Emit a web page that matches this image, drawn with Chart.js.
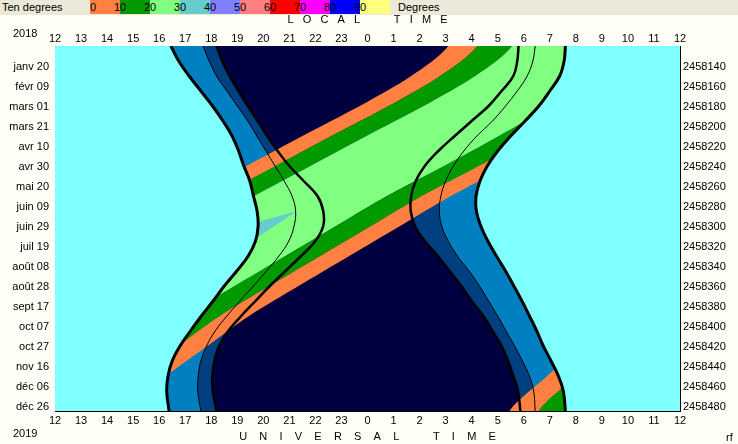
<!DOCTYPE html>
<html>
<head>
<meta charset="utf-8">
<script src="https://cdn.jsdelivr.net/npm/chart.js@4.4.0/dist/chart.umd.min.js"></script>
<style>
body { margin: 0; background: #FFFFF7; font-family: "Liberation Sans", Arial, sans-serif; font-size: 11px; }
#wrap { position: relative; width: 738px; height: 444px; overflow: hidden; }
canvas { position: absolute; left: 0; top: 0; }
#strip { position: absolute; left: 0; top: 0; width: 738px; height: 15px; background: #ECE9D8; }
.txt { position: absolute; line-height: 13px; white-space: nowrap; color: #000; }
.sw { position: absolute; top: 0; height: 14px; width: 30px; }
</style>
</head>
<body>
<div id="wrap">
  <canvas id="myChart" width="738" height="444"></canvas>
  <div id="strip"></div>
  <span class="txt" style="left:13px;top:27px">2018</span>
  <span class="txt" style="left:13px;top:427px">2019</span>
  <span class="txt" style="left:726px;top:431px">rf</span>
</div>
<script>
// hours are counted from 12:00, so 12 = midnight; days from 1 Jan 2018
var hourLabels = ["12","13","14","15","16","17","18","19","20","21","22","23","0","1","2","3","4","5","6","7","8","9","10","11","12"];
var tickDays = [20.5,40.5,60.5,80.5,100.5,120.5,140.5,160.5,180.5,200.5,220.5,240.5,260.5,280.5,300.5,320.5,340.5,360.5];
var dateLabels = ["janv 20","févr 09","mars 01","mars 21","avr 10","avr 30","mai 20","juin 09","juin 29","juil 19","août 08","août 28","sept 17","oct 07","oct 27","nov 16","déc 06","déc 26"];
var jdLabels = [2458140,2458160,2458180,2458200,2458220,2458240,2458260,2458280,2458300,2458320,2458340,2458360,2458380,2458400,2458420,2458440,2458460,2458480];

// sun
var sunDays    = [0,15,30,45,60,75,90,105,120,135,150,165,180,195,210,225,240,255,270,285,300,315,330,345,365];
var sunset     = [4.45,4.75,5.15,5.6,6.05,6.45,6.8,7.05,7.25,7.48,7.62,7.76,7.8,7.7,7.42,6.98,6.5,6.07,5.62,5.2,4.8,4.5,4.34,4.29,4.38];
var sunrise    = [19.6,19.55,19.38,19.0,18.58,18.05,17.5,17.0,16.6,16.32,16.17,16.18,16.35,16.62,16.95,17.3,17.62,17.93,18.22,18.5,18.75,19.05,19.33,19.52,19.6];
var nautEnd    = [5.69,5.92,6.2,6.6,7.0,7.4,7.75,8.1,8.45,8.8,9.1,9.24,9.18,8.98,8.6,8.12,7.62,7.1,6.6,6.15,5.82,5.6,5.5,5.48,5.6];
var nautStart  = [18.44,18.35,18.13,17.75,17.3,16.8,16.2,15.7,15.3,15.0,14.82,14.76,14.85,15.1,15.45,15.9,16.3,16.65,17.0,17.32,17.65,17.95,18.22,18.38,18.44];
var astroEnd   = [6.2,6.42,6.7,7.05,7.4,7.78,8.15,8.55,9.0,9.55,10.08,10.3,10.3,10.0,9.45,8.85,8.25,7.7,7.15,6.65,6.3,6.12,6.04,6.06,6.2];
var astroStart = [17.8,17.75,17.6,17.15,16.65,16.0,15.35,14.72,14.2,13.85,13.68,13.66,13.82,14.2,14.7,15.15,15.6,16.0,16.45,16.8,17.15,17.4,17.6,17.78,17.87];

// object altitude crossings (0, 10, 20 degrees)
var objDays = [0,30,60,90,120,150,180,210,240,270,300,330,365];
var rise0  = [15.1,13.68,11.7,9.5,7.35,5.2,3.1,1.15,-0.65,-2.3,-3.85,-5.1,-6.55];
var rise10 = [16.22,14.8,12.82,10.62,8.47,6.32,4.22,2.27,0.47,-1.18,-2.73,-3.98,-5.43];
var rise20 = [17.55,16.13,14.15,11.95,9.8,7.65,5.55,3.6,1.8,0.15,-1.4,-2.65,-4.1];
var set20  = [22.25,20.85,19.05,17.05,14.95,12.75,10.8,8.85,6.9,5.0,3.4,1.8,0.0];
var set10  = [23.58,22.18,20.38,18.38,16.28,14.08,12.13,10.18,8.23,6.33,4.73,3.13,1.33];
var set0   = [24.7,23.3,21.5,19.5,17.4,15.2,13.25,11.3,9.35,7.45,5.85,4.25,2.45];
// above 30 degrees
var tealDays = [165,182,200];
var tealRise = [9.27,6.99,4.58];
var tealSet  = [9.27,8.32,7.28];

var legendColors = ["#FF8040","#009900","#80FF80","#66CCCC","#8080FF","#FF8080","#FF0000","#FF00FF","#0000FF","#FFFF80"];
var legendLabels = ["0","10","20","30","40","50","60","70","80","90"];

var cyan = "#80FFFF", twi1 = "#0080C0", twi2 = "#004080", night = "#000040";

// legend strip
var strip = document.getElementById("strip");
strip.innerHTML = '<span class="txt" style="left:2px;top:1px">Ten degrees</span>';
legendColors.forEach(function (c, i) {
    strip.innerHTML += '<div class="sw" style="left:' + (90 + 30 * i) + 'px;background:' + c + '"></div>';
});
legendLabels.forEach(function (t, i) {
    var tr = i === 0 ? '' : 'transform:translateX(-50%);';
    strip.innerHTML += '<span class="txt" style="left:' + (90 + 30 * i) + 'px;top:1px;' + tr + '">' + t + '</span>';
});
strip.innerHTML += '<span class="txt" style="left:398px;top:1px">Degrees</span>';

// closed shape between two curves (left one down, right one back up)
function poly(days, left, right, shift) {
    var n = days.length - 1;
    var pts = [{x: left[0] + shift, y: -20}];
    for (var i = 0; i <= n; i++) pts.push({x: left[i] + shift, y: days[i]});
    pts.push({x: left[n] + shift, y: 385});
    pts.push({x: right[n] + shift, y: 385});
    for (var j = n; j >= 0; j--) pts.push({x: right[j] + shift, y: days[j]});
    pts.push({x: right[0] + shift, y: -20});
    return pts;
}
function curve(days, vals) {
    return days.map(function (d, i) { return {x: vals[i], y: d}; });
}
function area(pts, color, tension) {
    return {data: pts, showLine: true, fill: "shape", backgroundColor: color, borderColor: color,
            borderWidth: 0, pointRadius: 0, tension: tension, capBezierPoints: false};
}
function line(pts, w) {
    return {data: pts, showLine: true, fill: false, borderColor: "#000", borderWidth: w,
            pointRadius: 0, tension: 0.4, capBezierPoints: false};
}

var edgeL = sunDays.map(function () { return -2; });
var edgeR = sunDays.map(function () { return 26; });

var datasets = [];
datasets.push(area(poly(sunDays, sunset, sunrise, 0), twi1, 0.4));
datasets.push(area(poly(sunDays, nautEnd, nautStart, 0), twi2, 0.4));
datasets.push(area(poly(sunDays, astroEnd, astroStart, 0), night, 0.4));
[0, 24].forEach(function (s) {
    datasets.push(area(poly(objDays, rise0, rise10, s), "#FF8040", 0.3));
    datasets.push(area(poly(objDays, rise10, rise20, s), "#009900", 0.3));
    datasets.push(area(poly(objDays, rise20, set20, s), "#80FF80", 0.3));
    datasets.push(area(poly(objDays, set20, set10, s), "#009900", 0.3));
    datasets.push(area(poly(objDays, set10, set0, s), "#FF8040", 0.3));
});
var tealPts = curve(tealDays, tealRise).concat(curve(tealDays, tealSet).reverse());
datasets.push(area(tealPts, "#66CCCC", 0));
datasets.push(area(poly(sunDays, edgeL, sunset, 0), cyan, 0.4));
datasets.push(area(poly(sunDays, sunrise, edgeR, 0), cyan, 0.4));
datasets.push(line(curve(sunDays, nautEnd), 1));
datasets.push(line(curve(sunDays, nautStart), 1));
datasets.push(line(curve(sunDays, astroEnd), 2.5));
datasets.push(line(curve(sunDays, astroStart), 2.5));
datasets.push(line(curve(sunDays, sunset), 3));
datasets.push(line(curve(sunDays, sunrise), 3));
datasets.forEach(function (d, i) { d.order = datasets.length - i; });

var areaBg = {
    id: "areaBg",
    beforeDatasetsDraw: function (chart) {
        var a = chart.chartArea, ctx = chart.ctx;
        ctx.save();
        ctx.fillStyle = cyan;
        ctx.fillRect(a.left, a.top, a.right - a.left, a.bottom - a.top);
        ctx.restore();
    }
};

Chart.defaults.font.family = "'Liberation Sans', Arial, sans-serif";
Chart.defaults.font.size = 11;
Chart.defaults.color = "#000";

function xAxis(pos, size, pad, title, tpad) {
    return {
        type: "linear", position: pos, min: 0, max: 24, z: 1,
        ticks: {stepSize: 1, autoSkip: false, maxRotation: 0, padding: pad,
                callback: function (v, i) { return hourLabels[i]; }},
        grid: {drawOnChartArea: false, tickLength: -4, color: "#000"},
        border: {color: "#000", width: 1},
        title: {display: true, text: title, padding: tpad},
        afterFit: function (s) { s.height = size; }
    };
}
function yAxis(pos, size, pad, labels) {
    return {
        type: "linear", position: pos, min: 0, max: 365, reverse: true, z: 1,
        afterBuildTicks: function (s) { s.ticks = tickDays.map(function (v) { return {value: v}; }); },
        ticks: {autoSkip: false, padding: pad, callback: function (v, i) { return labels[i]; }},
        grid: {drawOnChartArea: false, tickLength: -4, color: "#000"},
        border: {color: "#000", width: 1},
        afterFit: function (s) { s.width = size; }
    };
}

new Chart("myChart", {
    type: "scatter",
    data: {datasets: datasets},
    options: {
        responsive: false,
        animation: false,
        devicePixelRatio: 1,
        events: [],
        layout: {padding: 0},
        plugins: {legend: {display: false}, tooltip: {enabled: false}},
        scales: {
            x: xAxis("bottom", 33, 7, "U    N    I    V    E    R    S    A    L           T    I    M    E", {top: 0, bottom: 0}),
            x2: xAxis("top", 46, 4, "L   O   C   A   L           T   I   M   E", {top: 13, bottom: 0}),
            y: yAxis("left", 55, 10, dateLabels),
            y2: yAxis("right", 58, 7, jdLabels)
        }
    },
    plugins: [areaBg]
});
</script>
</body>
</html>
